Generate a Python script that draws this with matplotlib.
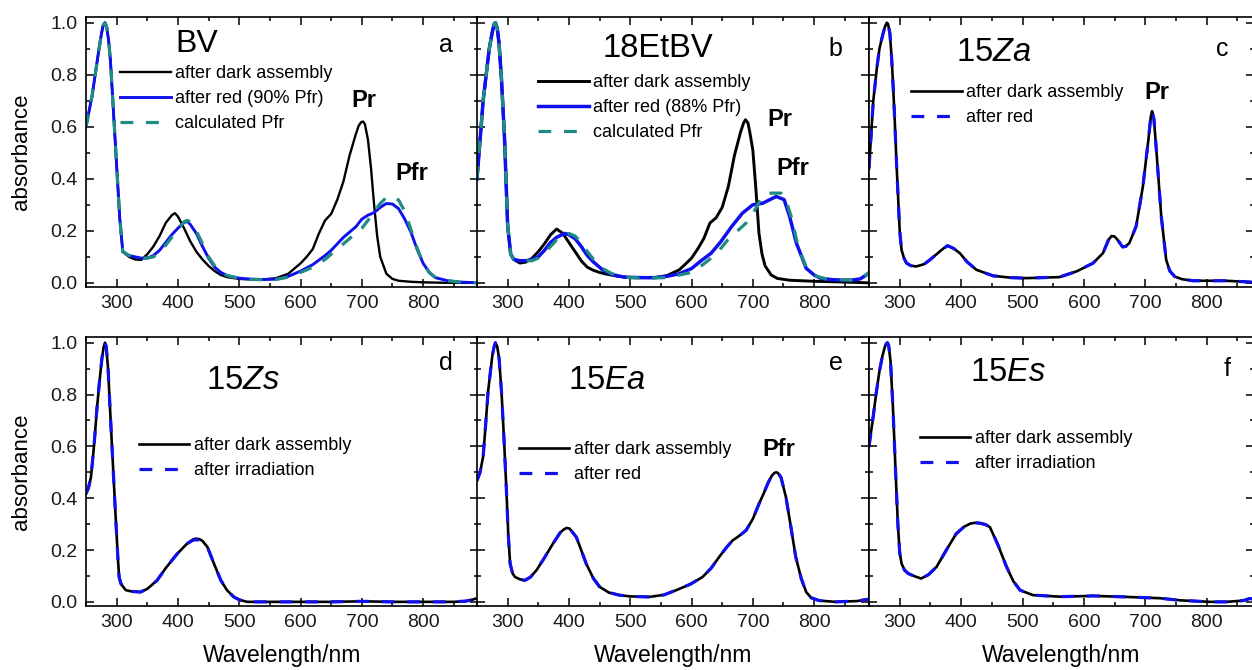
import matplotlib
matplotlib.use("Agg")
import matplotlib.pyplot as plt
from matplotlib.ticker import MultipleLocator

plt.rcParams['font.family'] = ['Liberation Sans', 'DejaVu Sans']
plt.rcParams['mathtext.fontset'] = 'custom'
plt.rcParams['mathtext.rm'] = 'Liberation Sans'
plt.rcParams['mathtext.it'] = 'Liberation Sans:italic'
plt.rcParams['lines.solid_joinstyle'] = 'round'
plt.rcParams['lines.dash_joinstyle'] = 'round'

# ---------------- data ----------------
# Panel a: BV
wl_a_dark = [250, 260, 270, 275, 278, 281, 284, 287, 290, 295, 300, 305, 310, 320, 330, 340, 350, 360, 370, 380, 390, 395,
             400, 410, 420, 430, 440, 450, 460, 470, 480, 500, 520, 540, 560, 580, 600, 610, 620, 630, 640, 650,
             660, 670, 680, 690, 695, 699, 702, 705, 710, 715, 720, 725, 730, 740, 750, 760, 780, 800, 840, 890]
dark_a = [0.60, 0.72, 0.88, 0.955, 0.99, 1.00, 0.98, 0.93, 0.85, 0.65, 0.45, 0.25, 0.12, 0.10, 0.09, 0.088, 0.11, 0.14, 0.18, 0.23, 0.26, 0.268,
          0.255, 0.21, 0.16, 0.12, 0.09, 0.065, 0.045, 0.03, 0.022, 0.015, 0.013, 0.013, 0.018, 0.035, 0.075, 0.10, 0.13, 0.19, 0.24, 0.265,
          0.32, 0.39, 0.49, 0.57, 0.605, 0.618, 0.62, 0.61, 0.55, 0.44, 0.30, 0.18, 0.10, 0.035, 0.015, 0.008, 0.004, 0.002, 0.0, 0.0]
wl_a_red = [250, 260, 270, 275, 278, 281, 284, 287, 290, 295, 300, 305, 310, 320, 330, 340, 350, 360, 370, 380, 390, 400,
            410, 415, 420, 430, 440, 450, 460, 470, 480, 500, 520, 540, 560, 580, 600, 620, 640, 650, 660, 670,
            680, 690, 700, 710, 720, 730, 740, 750, 760, 770, 780, 790, 800, 810, 820, 840, 860, 890]
red_a = [0.60, 0.72, 0.88, 0.955, 0.99, 1.00, 0.98, 0.93, 0.85, 0.65, 0.45, 0.25, 0.12, 0.105, 0.10, 0.095, 0.095, 0.105, 0.125, 0.155, 0.185, 0.21,
         0.232, 0.236, 0.225, 0.19, 0.14, 0.095, 0.06, 0.04, 0.028, 0.018, 0.014, 0.013, 0.014, 0.025, 0.045, 0.07, 0.105, 0.125, 0.15, 0.175,
         0.195, 0.215, 0.245, 0.26, 0.27, 0.29, 0.305, 0.303, 0.285, 0.245, 0.195, 0.13, 0.075, 0.04, 0.02, 0.008, 0.003, 0.0]
wl_a_calc = [250, 260, 270, 275, 278, 281, 284, 287, 290, 295, 300, 305, 310, 320, 330, 340, 350, 360, 370, 380, 390, 400,
             410, 415, 420, 430, 440, 450, 460, 470, 480, 500, 520, 540, 560, 580, 600, 620, 640, 660, 680, 690,
             700, 710, 720, 730, 740, 750, 760, 770, 780, 790, 800, 810, 820, 840, 860, 890]
calc_a = [0.60, 0.72, 0.88, 0.955, 0.99, 1.00, 0.98, 0.93, 0.85, 0.65, 0.45, 0.25, 0.12, 0.105, 0.10, 0.095, 0.095, 0.10, 0.115, 0.145, 0.175, 0.205,
          0.235, 0.24, 0.235, 0.20, 0.15, 0.10, 0.065, 0.042, 0.028, 0.017, 0.013, 0.012, 0.013, 0.022, 0.04, 0.06, 0.09, 0.13, 0.17, 0.19,
          0.21, 0.24, 0.275, 0.305, 0.328, 0.333, 0.318, 0.275, 0.205, 0.135, 0.075, 0.04, 0.02, 0.008, 0.003, 0.0]

# Panel b: 18EtBV
wl_b_dark = [250, 260, 270, 275, 278, 280, 283, 286, 290, 295, 300, 305, 310, 320, 330, 340, 350, 360, 370, 380, 390, 400,
             410, 420, 430, 440, 450, 460, 480, 500, 520, 540, 560, 580, 590, 600, 610, 620, 630, 640, 650, 660,
             670, 680, 685, 688, 692, 695, 700, 705, 710, 715, 720, 730, 740, 760, 800, 850, 890]
dark_b = [0.40, 0.70, 0.90, 0.965, 0.995, 1.00, 0.98, 0.92, 0.78, 0.55, 0.22, 0.11, 0.09, 0.076, 0.08, 0.095, 0.12, 0.15, 0.185, 0.207, 0.19, 0.155,
          0.12, 0.085, 0.06, 0.048, 0.04, 0.034, 0.025, 0.02, 0.02, 0.02, 0.028, 0.05, 0.072, 0.095, 0.13, 0.17, 0.23, 0.25, 0.29, 0.37,
          0.49, 0.58, 0.615, 0.627, 0.615, 0.58, 0.51, 0.36, 0.19, 0.11, 0.065, 0.03, 0.017, 0.01, 0.006, 0.003, 0.0]
wl_b_red = [250, 260, 270, 275, 278, 280, 283, 286, 290, 295, 300, 305, 310, 320, 330, 340, 350, 360, 370, 380, 393, 400,
            410, 420, 430, 440, 455, 470, 490, 520, 540, 560, 580, 600, 614, 632, 648, 665, 683, 700, 716, 728,
            738, 751, 760, 771, 787, 800, 810, 830, 860, 875, 885, 890]
red_b = [0.40, 0.70, 0.90, 0.965, 0.995, 1.00, 0.98, 0.92, 0.78, 0.55, 0.22, 0.11, 0.09, 0.085, 0.085, 0.09, 0.10, 0.125, 0.155, 0.175, 0.19, 0.185,
         0.17, 0.14, 0.105, 0.08, 0.05, 0.032, 0.022, 0.02, 0.02, 0.025, 0.035, 0.055, 0.082, 0.114, 0.159, 0.215, 0.268, 0.30, 0.306, 0.32,
         0.332, 0.32, 0.255, 0.153, 0.056, 0.03, 0.018, 0.012, 0.01, 0.015, 0.03, 0.04]
wl_b_calc = [250, 260, 270, 275, 278, 280, 283, 286, 290, 295, 300, 305, 310, 320, 330, 340, 350, 360, 370, 380, 390, 400,
             410, 420, 430, 440, 455, 470, 490, 520, 560, 600, 618, 640, 659, 689, 700, 710, 718, 730, 746, 755,
             762, 774, 787, 800, 820, 860, 885, 890]
calc_b = [0.40, 0.70, 0.90, 0.965, 0.995, 1.00, 0.98, 0.92, 0.78, 0.55, 0.22, 0.11, 0.09, 0.085, 0.085, 0.085, 0.095, 0.115, 0.14, 0.165, 0.185, 0.19,
          0.18, 0.155, 0.12, 0.09, 0.055, 0.035, 0.022, 0.018, 0.02, 0.04, 0.069, 0.11, 0.165, 0.23, 0.265, 0.31, 0.34, 0.345, 0.345, 0.31,
          0.26, 0.14, 0.06, 0.028, 0.015, 0.01, 0.03, 0.04]

# Panel c: 15Za
wl_c = [250, 257, 263, 267, 272, 276, 279, 281, 284, 287, 289, 292, 295, 300, 303, 307, 311, 318, 327, 340, 349, 360, 370, 378, 388, 398, 410,
        425, 452, 480, 506, 560, 588, 615, 631, 640, 645, 650, 655, 663, 668, 674, 685, 696, 705, 709, 711, 714, 718, 726, 734,
        740, 748, 760, 778, 832, 870, 890]
dark_c = [0.44, 0.70, 0.83, 0.90, 0.95, 0.985, 1.00, 0.995, 0.96, 0.86, 0.77, 0.62, 0.45, 0.20, 0.127, 0.095, 0.076, 0.066, 0.063, 0.072, 0.088, 0.11, 0.13, 0.143, 0.132, 0.114, 0.08,
          0.05, 0.027, 0.02, 0.018, 0.022, 0.044, 0.076, 0.114, 0.165, 0.18, 0.178, 0.165, 0.138, 0.14, 0.153, 0.217, 0.37, 0.55, 0.64, 0.66, 0.63, 0.51, 0.255, 0.088,
          0.045, 0.024, 0.014, 0.008, 0.008, 0.003, 0.0]
red_c = [0.44, 0.70, 0.83, 0.90, 0.95, 0.985, 1.00, 0.995, 0.96, 0.86, 0.77, 0.62, 0.45, 0.20, 0.127, 0.095, 0.076, 0.066, 0.063, 0.072, 0.088, 0.11, 0.13, 0.143, 0.132, 0.114, 0.08,
         0.05, 0.027, 0.02, 0.018, 0.022, 0.044, 0.076, 0.114, 0.165, 0.18, 0.178, 0.165, 0.138, 0.14, 0.153, 0.217, 0.37, 0.55, 0.64, 0.66, 0.63, 0.51, 0.255, 0.088,
         0.045, 0.024, 0.014, 0.008, 0.008, 0.003, 0.0]

# Panel d: 15Zs
wl_d = [250, 254, 258, 263, 268, 272, 276, 279, 281, 283, 286, 290, 295, 299, 302, 304, 307, 310, 315, 325, 339, 350, 366, 380, 399, 415, 424, 429,
        435, 440, 448, 460, 470, 480, 491, 500, 513, 550, 600, 650, 700, 750, 800, 850, 870, 880, 886, 890]
dark_d = [0.417, 0.44, 0.48, 0.60, 0.75, 0.85, 0.94, 0.985, 1.00, 0.985, 0.90, 0.71, 0.48, 0.30, 0.17, 0.096, 0.07, 0.06, 0.045, 0.04, 0.038, 0.05, 0.083, 0.13, 0.186, 0.225, 0.24, 0.244,
          0.242, 0.235, 0.212, 0.14, 0.083, 0.045, 0.019, 0.008, 0.0, 0.0, 0.0, 0.0, 0.002, 0.0, 0.0, 0.0, 0.003, 0.008, 0.013, 0.008]
irr_d = [0.417, 0.44, 0.48, 0.60, 0.75, 0.85, 0.94, 0.985, 1.00, 0.985, 0.90, 0.71, 0.48, 0.30, 0.17, 0.096, 0.07, 0.06, 0.045, 0.04, 0.038, 0.05, 0.083, 0.13, 0.186, 0.225, 0.237, 0.240,
         0.238, 0.232, 0.212, 0.14, 0.083, 0.045, 0.019, 0.008, 0.0, 0.0, 0.0, 0.0, 0.002, 0.0, 0.0, 0.0, 0.003, 0.008, 0.013, 0.008]

# Panel e: 15Ea
wl_e = [250, 255, 260, 264, 268, 272, 275, 278, 280, 283, 286, 290, 294, 298, 301, 304, 308, 312, 320, 328, 337, 347, 360, 374, 386, 392, 396, 401, 412, 420, 428, 440, 450, 465, 482,
        500, 531, 555, 575, 598, 618, 632, 645, 657, 667, 678, 689, 700, 710, 718, 725, 731, 735, 738, 741, 746, 754, 762, 770, 779, 787, 795, 808, 835, 870, 888, 890]
dark_e = [0.468, 0.50, 0.56, 0.68, 0.81, 0.89, 0.95, 0.985, 1.00, 0.985, 0.94, 0.81, 0.63, 0.43, 0.26, 0.148, 0.11, 0.096, 0.087, 0.083, 0.095, 0.122, 0.17, 0.225, 0.268, 0.28, 0.285, 0.283, 0.25, 0.20, 0.148, 0.09, 0.058, 0.036, 0.026,
          0.021, 0.019, 0.027, 0.045, 0.068, 0.096, 0.13, 0.173, 0.21, 0.237, 0.255, 0.276, 0.32, 0.378, 0.42, 0.46, 0.487, 0.497, 0.50, 0.497, 0.48, 0.404, 0.29, 0.173, 0.09, 0.038, 0.016, 0.005, 0.0, 0.003, 0.01, 0.01]
red_e = [0.468, 0.50, 0.56, 0.68, 0.81, 0.89, 0.95, 0.985, 1.00, 0.985, 0.94, 0.81, 0.63, 0.43, 0.26, 0.148, 0.11, 0.096, 0.087, 0.083, 0.095, 0.122, 0.17, 0.225, 0.268, 0.28, 0.285, 0.283, 0.25, 0.20, 0.148, 0.09, 0.058, 0.036, 0.026,
         0.021, 0.019, 0.027, 0.045, 0.068, 0.096, 0.13, 0.173, 0.21, 0.237, 0.255, 0.276, 0.32, 0.378, 0.42, 0.46, 0.487, 0.497, 0.50, 0.497, 0.48, 0.404, 0.29, 0.173, 0.09, 0.038, 0.016, 0.005, 0.0, 0.003, 0.01, 0.01]

# Panel f: 15Es
wl_f = [250, 256, 262, 267, 272, 276, 278, 280, 282, 285, 289, 293, 297, 300, 303, 308, 314, 325, 335, 347, 360, 376, 392, 405, 415, 422, 430, 440, 447, 460, 474, 485, 496,
        517, 561, 615, 670, 724, 756, 805, 832, 860, 870, 877]
dark_f = [0.60, 0.70, 0.81, 0.89, 0.95, 0.985, 0.995, 1.00, 0.99, 0.93, 0.75, 0.52, 0.30, 0.19, 0.148, 0.122, 0.109, 0.098, 0.09, 0.105, 0.135, 0.2, 0.263, 0.29, 0.302, 0.305, 0.304, 0.298, 0.288, 0.22, 0.135, 0.08, 0.045,
          0.026, 0.02, 0.023, 0.019, 0.014, 0.006, 0.0, 0.0, 0.005, 0.013, 0.01]
irr_f = [0.60, 0.70, 0.81, 0.89, 0.95, 0.985, 0.995, 1.00, 0.99, 0.93, 0.75, 0.52, 0.30, 0.19, 0.148, 0.122, 0.109, 0.098, 0.09, 0.105, 0.135, 0.2, 0.263, 0.29, 0.302, 0.305, 0.304, 0.298, 0.288, 0.22, 0.135, 0.08, 0.045,
         0.026, 0.02, 0.023, 0.019, 0.014, 0.006, 0.0, 0.0, 0.005, 0.013, 0.01]

xticks = [300, 400, 500, 600, 700, 800]
yticks = [0.0, 0.2, 0.4, 0.6, 0.8, 1.0]

BLACK = '#000000'
BLUE = '#1010ee'
TEAL = '#1f8c84'

# ---------------- figure ----------------
W, H = 1252, 670
fig = plt.figure(figsize=(W / 100, H / 100), dpi=100)


def px_axes(left, top, right, bottom):
    return fig.add_axes([left / W, 1 - bottom / H, (right - left) / W, (bottom - top) / H])


ax_a = px_axes(86, 17, 478, 287)
ax_b = px_axes(477, 17, 869, 287)
ax_c = px_axes(869, 17, 1254, 287)
ax_d = px_axes(86, 337, 478, 606)
ax_e = px_axes(477, 337, 869, 606)
ax_f = px_axes(869, 337, 1254, 606)

xr = {ax_a: 889.5, ax_b: 889.5, ax_c: 877, ax_d: 889.5, ax_e: 889.5, ax_f: 877}

for ax in [ax_a, ax_b, ax_c, ax_d, ax_e, ax_f]:
    ax.set_xlim(250, xr[ax])
    ax.set_ylim(-0.016, 1.022)
    ax.set_xticks(xticks)
    ax.set_yticks(yticks)
    ax.xaxis.set_minor_locator(MultipleLocator(50))
    ax.yaxis.set_minor_locator(MultipleLocator(0.1))
    ax.tick_params(which='both', direction='in', top=True, right=True, width=1.1, colors='black')
    ax.tick_params(which='major', length=5.5, labelsize=14, pad=6)
    ax.tick_params(which='minor', length=3)
    for s in ax.spines.values():
        s.set_linewidth(1.2)
    ax.set_xticklabels([str(t) for t in xticks], color='#1a1a1a')

for ax in [ax_a, ax_d]:
    ax.set_yticklabels([f"{t:.1f}" for t in yticks], color='#1a1a1a')
    ax.set_ylabel('absorbance', fontsize=16, labelpad=13)
for ax in [ax_b, ax_c, ax_e, ax_f]:
    ax.set_yticklabels([])
for ax in [ax_d, ax_e, ax_f]:
    ax.set_xlabel('Wavelength/nm', fontsize=16.5, labelpad=9)

LEG = dict(frameon=False, fontsize=13, loc='upper left', borderpad=0, borderaxespad=0,
           handlelength=2.8, handletextpad=0.25, labelspacing=0.45)

# panel a
ax_a.plot(wl_a_dark, dark_a, color=BLACK, lw=1.7, label='after dark assembly')
ax_a.plot(wl_a_red, red_a, color=BLUE, lw=2.1, label='after red (90% Pfr)')
ax_a.plot(wl_a_calc, calc_a, color=TEAL, lw=2.3, dashes=(4, 4), label='calculated Pfr')
ax_a.legend(bbox_to_anchor=(0.087, 0.822), **LEG)
ax_a.text(395, 0.92, 'BV', fontsize=23, ha='left', va='center')
ax_a.text(837, 0.915, 'a', fontsize=18, ha='center', va='center')
ax_a.text(683, 0.70, 'Pr', fontsize=17, fontweight='bold', ha='left', va='center')
ax_a.text(755, 0.42, 'Pfr', fontsize=17, fontweight='bold', ha='left', va='center')

# panel b
ax_b.plot(wl_b_dark, dark_b, color=BLACK, lw=2.1, label='after dark assembly')
ax_b.plot(wl_b_red, red_b, color=BLUE, lw=2.5, label='after red (88% Pfr)')
ax_b.plot(wl_b_calc, calc_b, color=TEAL, lw=2.3, dashes=(4, 4), label='calculated Pfr')
ax_b.legend(bbox_to_anchor=(0.156, 0.789), **LEG)
ax_b.text(455, 0.90, '18EtBV', fontsize=23.5, ha='left', va='center')
ax_b.text(834, 0.90, 'b', fontsize=18, ha='center', va='center')
ax_b.text(723, 0.627, 'Pr', fontsize=17, fontweight='bold', ha='left', va='center')
ax_b.text(738, 0.44, 'Pfr', fontsize=17, fontweight='bold', ha='left', va='center')

# panel c
ax_c.plot(wl_c, dark_c, color=BLACK, lw=1.9, label='after dark assembly')
ax_c.plot(wl_c, red_c, color=BLUE, lw=2.3, dashes=(4, 4), label='after red')
ax_c.legend(bbox_to_anchor=(0.109, 0.752), **LEG)
ax_c.text(392, 0.885, r'15$\mathit{Za}$', fontsize=23.5, ha='left', va='center')
ax_c.text(826, 0.90, 'c', fontsize=18, ha='center', va='center')
ax_c.text(699, 0.73, 'Pr', fontsize=17, fontweight='bold', ha='left', va='center')

# panel d
ax_d.plot(wl_d, dark_d, color=BLACK, lw=1.9, label='after dark assembly')
ax_d.plot(wl_d, irr_d, color=BLUE, lw=2.3, dashes=(4, 4), label='after irradiation')
ax_d.legend(bbox_to_anchor=(0.135, 0.628), **LEG)
ax_d.text(445, 0.853, r'15$\mathit{Zs}$', fontsize=23.5, ha='left', va='center')
ax_d.text(837, 0.92, 'd', fontsize=18, ha='center', va='center')

# panel e
ax_e.plot(wl_e, dark_e, color=BLACK, lw=1.9, label='after dark assembly')
ax_e.plot(wl_e, red_e, color=BLUE, lw=2.3, dashes=(4, 4), label='after red')
ax_e.legend(bbox_to_anchor=(0.107, 0.613), **LEG)
ax_e.text(398, 0.853, r'15$\mathit{Ea}$', fontsize=23.5, ha='left', va='center')
ax_e.text(836, 0.92, 'e', fontsize=18, ha='center', va='center')
ax_e.text(715, 0.587, 'Pfr', fontsize=17, fontweight='bold', ha='left', va='center')

# panel f
ax_f.plot(wl_f, dark_f, color=BLACK, lw=1.9, label='after dark assembly')
ax_f.plot(wl_f, irr_f, color=BLUE, lw=2.3, dashes=(4, 4), label='after irradiation')
ax_f.legend(bbox_to_anchor=(0.132, 0.654), **LEG)
ax_f.text(414, 0.885, r'15$\mathit{Es}$', fontsize=23.5, ha='left', va='center')
ax_f.text(834, 0.90, 'f', fontsize=18, ha='center', va='center')

fig.savefig('out.png', dpi=100)
